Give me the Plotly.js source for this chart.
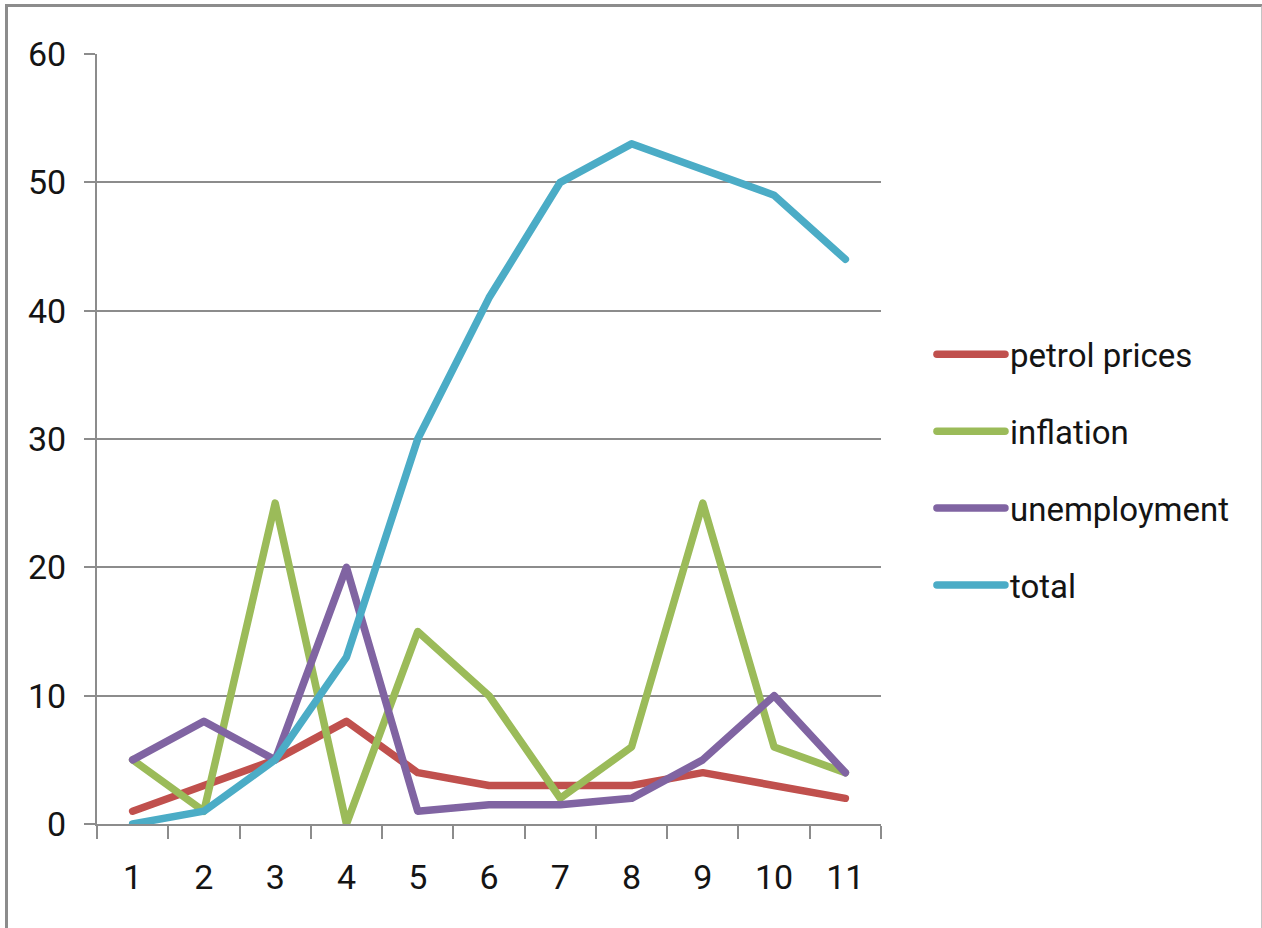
<!DOCTYPE html>
<html>
<head>
<meta charset="utf-8">
<script src="https://cdn.plot.ly/plotly-3.0.1.min.js"></script>
<style>
  html, body { margin: 0; padding: 0; background: #fff; }
  #wrap { position: relative; width: 1262px; height: 928px; overflow: hidden; }
  #chart { position: absolute; left: 0; top: 0; width: 1262px; height: 928px; }
  #frame {
    position: absolute; left: 5px; top: 4px; width: 1253px; height: 940px;
    border-top: 3px solid #8c8c8c; border-left: 3px solid #8c8c8c;
    border-right: 2px solid #c4c4c4; pointer-events: none;
  }
  /* rounded ends and joins on the series lines and legend swatches */
  #chart .scatterlayer .js-line,
  #chart .legendlines path { stroke-linecap: round; stroke-linejoin: round; }
</style>
</head>
<body>
<div id="wrap">
  <div id="chart"></div>
  <div id="frame"></div>
</div>
<script>
// Periods along the horizontal axis
const periods = ['1', '2', '3', '4', '5', '6', '7', '8', '9', '10', '11'];

// Series values per period
const petrolPrices = [1, 3, 5, 8, 4, 3, 3, 3, 4, 3, 2];
const inflation = [5, 1, 25, 0, 15, 10, 2, 6, 25, 6, 4];
const unemployment = [5, 8, 5, 20, 1, 1.5, 1.5, 2, 5, 10, 4];
const total = [0, 1, 5, 13, 30, 41, 50, 53, 51, 49, 44];

// Vertical axis ticks
const yTicks = [0, 10, 20, 30, 40, 50, 60];

const FONT = 'Roboto, "Liberation Sans", sans-serif';
const TEXT = '#141414';

const series = [
  { name: 'petrol prices', y: petrolPrices, color: '#C0504D' },
  { name: 'inflation', y: inflation, color: '#9BBB59' },
  { name: 'unemployment', y: unemployment, color: '#8064A2' },
  { name: 'total', y: total, color: '#4BACC6' }
];

const traces = series.map((s, i) => ({
  type: 'scatter',
  mode: 'lines',
  x: periods,
  y: s.y,
  name: s.name,
  legendgroup: 'g' + i,
  line: { color: s.color, width: 7.5, shape: 'linear' },
  hoverinfo: 'x+y+name'
}));

const layout = {
  width: 1262,
  height: 928,
  paper_bgcolor: '#ffffff',
  plot_bgcolor: '#ffffff',
  margin: { l: 97, r: 381, t: 54, b: 104, pad: 0 },
  font: { family: FONT, size: 34, color: TEXT },
  showlegend: true,
  legend: {
    x: 1.065, xref: 'paper', xanchor: 'left',
    y: 0.46, yanchor: 'middle',
    traceorder: 'grouped',
    tracegroupgap: 31,
    itemwidth: 68,
    font: { family: FONT, size: 33, color: TEXT },
    bgcolor: 'rgba(0,0,0,0)',
    borderwidth: 0
  },
  xaxis: {
    type: 'category',
    categoryorder: 'array',
    categoryarray: periods,
    range: [-0.5, periods.length - 0.5],
    tickson: 'boundaries',
    ticks: 'outside',
    ticklen: 13,
    tickwidth: 2,
    tickcolor: '#8c8c8c',
    showline: true,
    linecolor: '#8c8c8c',
    linewidth: 2,
    showgrid: false,
    zeroline: false,
    ticklabelstandoff: 22,
    tickfont: { family: FONT, size: 34, color: TEXT }
  },
  yaxis: {
    range: [0, 60],
    tickmode: 'array',
    tickvals: yTicks,
    ticktext: yTicks.map(String),
    ticks: 'outside',
    ticklen: 11,
    tickwidth: 2,
    tickcolor: '#8c8c8c',
    showline: true,
    linecolor: '#8c8c8c',
    linewidth: 2,
    showgrid: true,
    gridcolor: '#8c8c8c',
    gridwidth: 2,
    zeroline: false,
    ticklabelstandoff: 11,
    tickfont: { family: FONT, size: 34, color: TEXT }
  }
};

Plotly.newPlot('chart', traces, layout, { displayModeBar: false, staticPlot: true });
</script>
</body>
</html>
